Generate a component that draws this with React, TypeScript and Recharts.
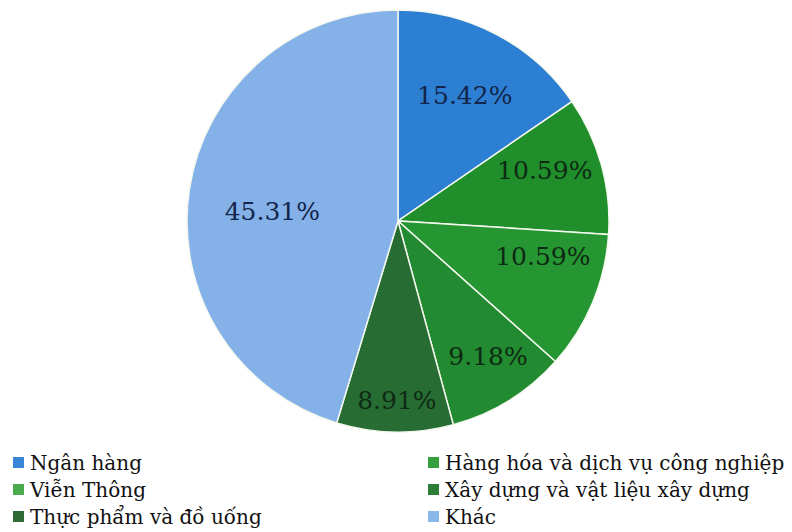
import React from "react";
import { PieChart, Pie, Cell, Legend } from "recharts";

const categories = [
  "Ngân hàng",
  "Hàng hóa và dịch vụ công nghiệp",
  "Viễn Thông",
  "Xây dựng và vật liệu xây dựng",
  "Thực phẩm và đồ uống",
  "Khác",
];
const shares = [15.42, 10.59, 10.59, 9.18, 8.91, 45.31];
const labels = ["15.42%", "10.59%", "10.59%", "9.18%", "8.91%", "45.31%"];

const sliceColors = ["#2c7fd2", "#1f8e2b", "#269632", "#228a30", "#276d33", "#84b2e8"];
const swatchColors = ["#3a86d6", "#33a03d", "#4aab4c", "#2d7c38", "#2e6b37", "#8bb8ea"];
const labelColors = ["#13254a", "#0f2a14", "#0f2a14", "#0f2a14", "#0f2a14", "#13254a"];

const data = categories.map((name, i) => ({ name, value: shares[i], label: labels[i], idx: i }));

const RAD = Math.PI / 180;

// label placement tweaks (radial fraction and angle shift per slice)
const labelRadius = [0.673, 0.735, 0.706, 0.773, 0.853, 0.597];
const labelAngleShift = [-0.3, 3.4, 9.1, 1.8, 0.5, 4.3];

const renderLabel = (props: any) => {
  const { cx, cy, midAngle, outerRadius, index } = props;
  const r = outerRadius * labelRadius[index];
  const a = midAngle + labelAngleShift[index];
  const x = cx + r * Math.cos(-a * RAD);
  const y = cy + r * Math.sin(-a * RAD);
  return (
    <text
      x={x}
      y={y}
      fill={labelColors[index]}
      textAnchor="middle"
      dominantBaseline="central"
      fontFamily="DejaVu Serif"
      fontSize={25}
    >
      {labels[index]}
    </text>
  );
};

const renderLegend = () => {
  return (
    <div
      style={{
        display: "grid",
        gridTemplateColumns: "416px 376px",
        rowGap: 0,
        fontFamily: "DejaVu Serif",
        fontSize: 20,
        color: "#111",
      }}
    >
      {data.map((d, i) => (
        <div
          key={d.name}
          style={{
            display: "flex",
            alignItems: "center",
            height: 27,
            paddingLeft: i % 2 === 0 ? 13 : 12,
            whiteSpace: "nowrap",
          }}
        >
          <span
            style={{
              display: "inline-block",
              width: 11,
              height: 11,
              background: swatchColors[i],
              marginRight: 6,
            }}
          />
          <span>{d.name}</span>
        </div>
      ))}
    </div>
  );
};

export default function App() {
  return (
    <div style={{ position: "absolute", left: 0, top: 0, background: "#fff" }}>
      <PieChart width={792} height={532} margin={{ top: 0, right: 0, bottom: 0, left: 0 }}>
        <Pie
          data={data}
          dataKey="value"
          nameKey="name"
          cx={398}
          cy={221}
          outerRadius={211}
          startAngle={90}
          endAngle={-270}
          stroke="#f4f8ee"
          strokeWidth={1.5}
          label={renderLabel}
          labelLine={false}
          isAnimationActive={false}
        >
          {data.map((d, i) => (
            <Cell key={d.name} fill={sliceColors[i]} />
          ))}
        </Pie>
        <Legend
          content={renderLegend}
          wrapperStyle={{ left: 0, top: 449, width: 792, bottom: "auto" }}
        />
      </PieChart>
    </div>
  );
}
